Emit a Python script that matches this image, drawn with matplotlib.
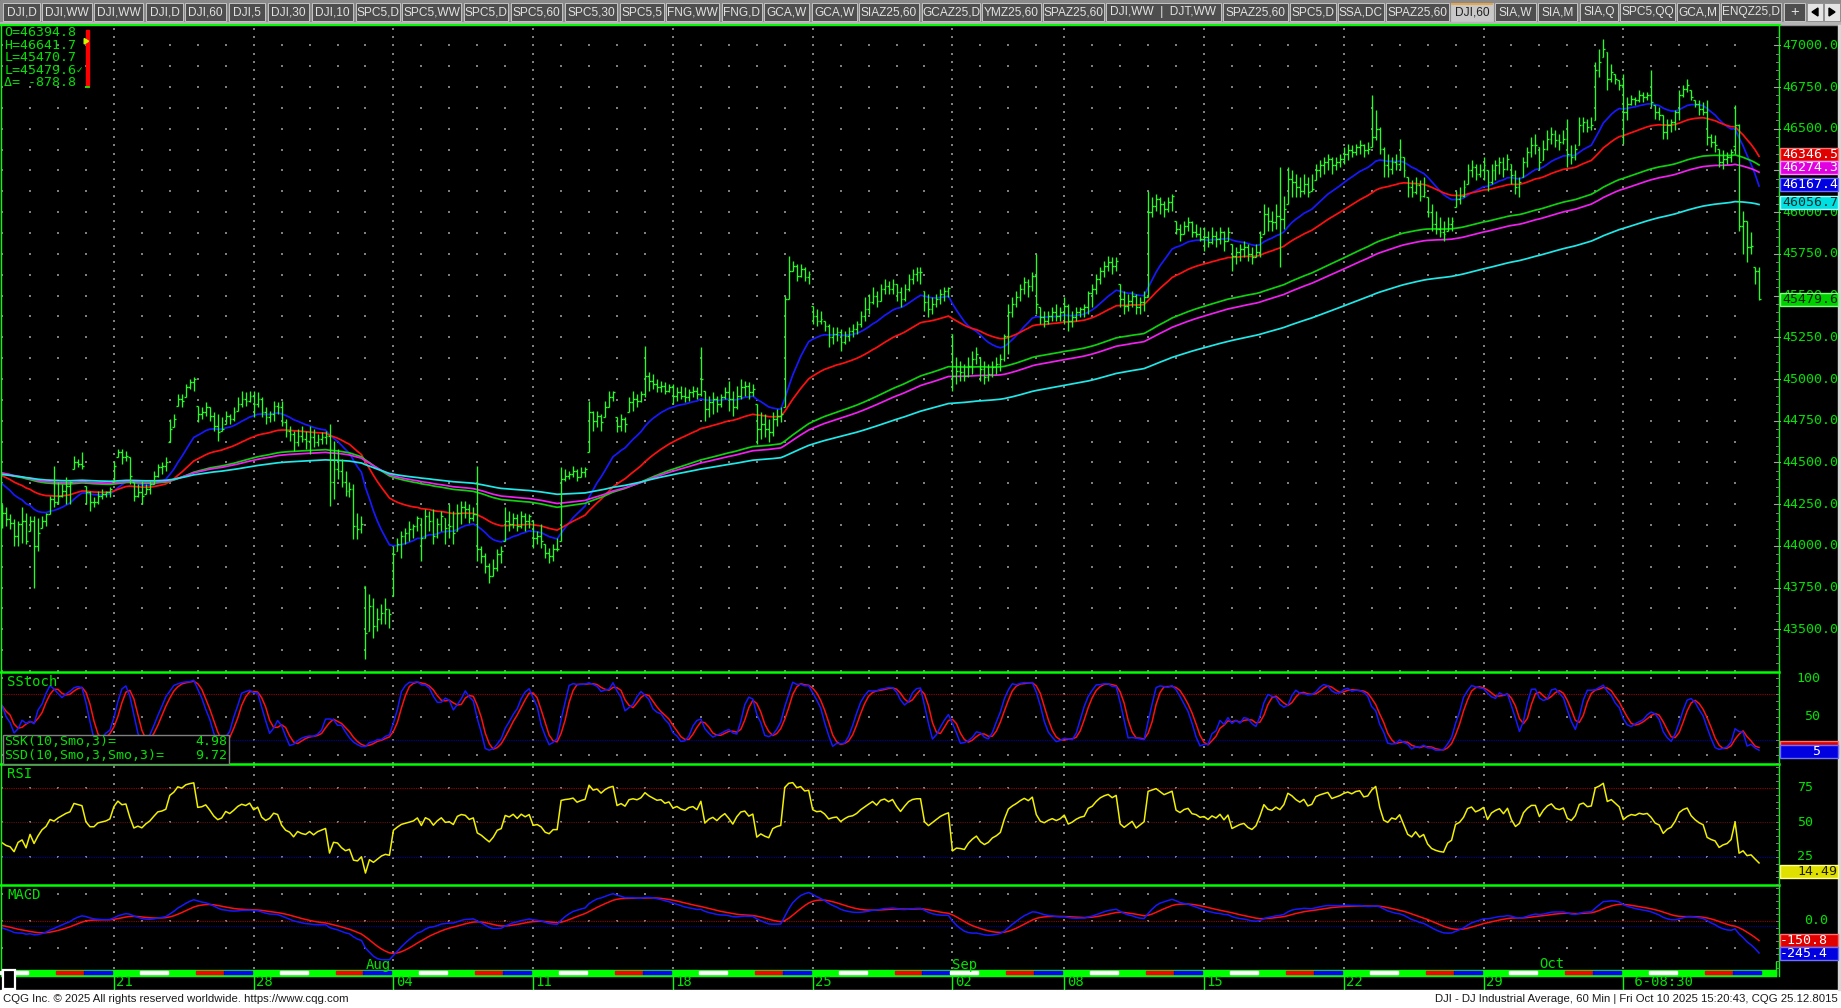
import numpy as np
import pandas as pd
import matplotlib
matplotlib.use("Agg")
import matplotlib.pyplot as plt
from matplotlib.collections import LineCollection
from matplotlib.patches import Rectangle, Polygon

W, H = 1841, 1008
MONO = "DejaVu Sans Mono"
TXT = "#00e400"
GREEN = "#00ff00"

# ---------------- data ----------------
# DJI 60-min bars, 7 per session, Jul 15 - Oct 10 2025 (Labor Day closed)
sessions = [d for d in pd.bdate_range("2025-07-15", "2025-10-10") if d != pd.Timestamp("2025-09-01")]

high = [
    44250, 44230, 44190, 44160, 44150, 44230, 44200,  # Jul 15
    44180, 44180, 44170, 44180, 44200, 44300, 44480,  # Jul 16
    44380, 44370, 44410, 44390, 44540, 44520, 44560,  # Jul 17
    44360, 44330, 44290, 44330, 44340, 44330, 44350,  # Jul 18
    44510, 44580, 44580, 44570, 44530, 44380, 44370,  # Jul 21
    44390, 44370, 44390, 44450, 44490, 44500, 44530,  # Jul 22
    44760, 44790, 44910, 44910, 44970, 45000, 45010,  # Jul 23
    44840, 44830, 44860, 44830, 44800, 44790, 44770,  # Jul 24
    44810, 44790, 44830, 44890, 44930, 44920, 44930,  # Jul 25
    44930, 44920, 44890, 44830, 44810, 44870, 44860,  # Jul 28
    44870, 44760, 44720, 44690, 44700, 44720, 44690,  # Jul 29
    44720, 44700, 44670, 44680, 44690, 44730, 44630,  # Jul 30
    44580, 44520, 44450, 44380, 44370, 44200, 44180,  # Jul 31
    43760, 43710, 43690, 43630, 43650, 43690, 43620,  # Aug 1
    44000, 44050, 44090, 44110, 44150, 44130, 44180,  # Aug 4
    44170, 44220, 44210, 44220, 44170, 44210, 44170,  # Aug 5
    44250, 44210, 44250, 44270, 44270, 44250, 44230,  # Aug 6
    44480, 44000, 43960, 43900, 43920, 43980, 44000,  # Aug 7
    44230, 44210, 44200, 44190, 44210, 44200, 44190,  # Aug 8
    44150, 44090, 44130, 44010, 43990, 44010, 44050,  # Aug 11
    44470, 44460, 44450, 44480, 44460, 44470, 44470,  # Aug 12
    44870, 44810, 44810, 44790, 44870, 44930, 44930,  # Aug 13
    44770, 44790, 44770, 44890, 44930, 44910, 44930,  # Aug 14
    45200, 45040, 45030, 45000, 44990, 44980, 44970,  # Aug 15
    44970, 44950, 44960, 44950, 44940, 44960, 44950,  # Aug 18
    45190, 44930, 44900, 44920, 44900, 44910, 44950,  # Aug 19
    44990, 44930, 44960, 45000, 44990, 44980, 44970,  # Aug 20
    44850, 44800, 44790, 44760, 44800, 44820, 44830,  # Aug 21
    45500, 45740, 45710, 45690, 45690, 45670, 45650,  # Aug 22
    45440, 45420, 45410, 45350, 45330, 45310, 45310,  # Aug 25
    45300, 45290, 45310, 45330, 45350, 45410, 45490,  # Aug 26
    45510, 45550, 45530, 45570, 45600, 45590, 45600,  # Aug 27
    45570, 45550, 45570, 45630, 45660, 45670, 45670,  # Aug 28
    45530, 45510, 45490, 45510, 45540, 45550, 45550,  # Aug 29
    45270, 45130, 45110, 45090, 45130, 45170, 45190,  # Sep 2
    45130, 45110, 45090, 45110, 45130, 45150, 45270,  # Sep 3
    45450, 45490, 45530, 45570, 45610, 45600, 45640,  # Sep 4
    45750, 45430, 45410, 45410, 45430, 45450, 45430,  # Sep 5
    45490, 45450, 45410, 45430, 45430, 45450, 45530,  # Sep 8
    45570, 45630, 45670, 45710, 45740, 45730, 45730,  # Sep 9
    45570, 45530, 45510, 45530, 45510, 45490, 45530,  # Sep 10
    46130, 46090, 46110, 46090, 46070, 46090, 46110,  # Sep 11
    45950, 45930, 45950, 45970, 45950, 45930, 45910,  # Sep 12
    45910, 45890, 45910, 45890, 45910, 45890, 45910,  # Sep 15
    45810, 45790, 45810, 45830, 45810, 45790, 45810,  # Sep 16
    45890, 46050, 46030, 46010, 46050, 46270, 46100,  # Sep 17
    46270, 46250, 46230, 46210, 46230, 46210, 46230,  # Sep 18
    46290, 46310, 46330, 46350, 46330, 46330, 46350,  # Sep 19
    46390, 46410, 46400, 46410, 46430, 46410, 46420,  # Sep 22
    46700, 46610, 46510, 46390, 46350, 46330, 46350,  # Sep 23
    46440, 46330, 46210, 46190, 46210, 46190, 46210,  # Sep 24
    46090, 46050, 46010, 45970, 45950, 45970, 45970,  # Sep 25
    46130, 46150, 46190, 46290, 46310, 46290, 46290,  # Sep 26
    46330, 46250, 46290, 46310, 46330, 46330, 46350,  # Sep 29
    46290, 46250, 46210, 46330, 46390, 46450, 46470,  # Sep 30
    46390, 46430, 46490, 46510, 46490, 46470, 46490,  # Oct 1
    46560, 46400, 46410, 46570, 46570, 46560, 46570,  # Oct 2
    46900, 46980, 47040, 46960, 46890, 46830, 46790,  # Oct 3
    46830, 46690, 46700, 46690, 46730, 46720, 46720,  # Oct 6
    46850, 46640, 46630, 46580, 46560, 46560, 46610,  # Oct 7
    46730, 46760, 46800, 46730, 46670, 46670, 46660,  # Oct 8
    46670, 46470, 46460, 46380, 46370, 46360, 46380,  # Oct 9
    46641.7, 46530, 46010, 45950, 45880, 45670, 45670,  # Oct 10
]
low = [
    44110, 44120, 44100, 44000, 44000, 44020, 44010,  # Jul 15
    44090, 43750, 43970, 44110, 44120, 44190, 44230,  # Jul 16
    44250, 44290, 44250, 44250, 44460, 44470, 44460,  # Jul 17
    44250, 44210, 44230, 44250, 44280, 44290, 44290,  # Jul 18
    44380, 44530, 44490, 44510, 44370, 44270, 44290,  # Jul 21
    44250, 44310, 44310, 44370, 44410, 44430, 44450,  # Jul 22
    44620, 44710, 44840, 44830, 44890, 44940, 44930,  # Jul 23
    44740, 44760, 44780, 44750, 44690, 44630, 44690,  # Jul 24
    44730, 44730, 44750, 44810, 44830, 44840, 44860,  # Jul 25
    44770, 44830, 44770, 44730, 44740, 44750, 44790,  # Jul 28
    44720, 44650, 44630, 44570, 44600, 44620, 44580,  # Jul 29
    44550, 44590, 44600, 44610, 44610, 44240, 44280,  # Jul 30
    44400, 44350, 44300, 44290, 44040, 44040, 44080,  # Jul 31
    43320, 43490, 43450, 43490, 43530, 43530, 43510,  # Aug 1
    43700, 43970, 43930, 44010, 44030, 44050, 44090,  # Aug 4
    43910, 44050, 44090, 44010, 44050, 44090, 44010,  # Aug 5
    44050, 44010, 44090, 44130, 44170, 44140, 44150,  # Aug 6
    43910, 43900, 43840, 43780, 43820, 43850, 43900,  # Aug 7
    44030, 44090, 44110, 44090, 44110, 44090, 44110,  # Aug 8
    43990, 44010, 43990, 43930, 43900, 43910, 43970,  # Aug 11
    44030, 44390, 44400, 44410, 44390, 44410, 44410,  # Aug 12
    44560, 44690, 44710, 44690, 44770, 44830, 44870,  # Aug 13
    44680, 44690, 44680, 44800, 44810, 44830, 44860,  # Aug 14
    44890, 44930, 44940, 44920, 44920, 44910, 44920,  # Aug 15
    44850, 44870, 44880, 44860, 44870, 44890, 44880,  # Aug 18
    44900, 44750, 44770, 44790, 44800, 44830, 44880,  # Aug 19
    44810, 44780, 44820, 44880, 44900, 44880, 44900,  # Aug 20
    44610, 44640, 44650, 44620, 44660, 44720, 44740,  # Aug 21
    44830, 45480, 45650, 45590, 45610, 45590, 45570,  # Aug 22
    45330, 45320, 45330, 45290, 45190, 45210, 45230,  # Aug 25
    45170, 45210, 45230, 45250, 45270, 45310, 45350,  # Aug 26
    45390, 45450, 45430, 45470, 45510, 45510, 45510,  # Aug 27
    45470, 45430, 45470, 45530, 45570, 45590, 45570,  # Aug 28
    45410, 45370, 45390, 45430, 45450, 45470, 45490,  # Aug 29
    44930, 44970, 44990, 44990, 45010, 45030, 45090,  # Sep 2
    44990, 44970, 44990, 45010, 45030, 45050, 45110,  # Sep 3
    45150, 45370, 45430, 45470, 45510, 45490, 45530,  # Sep 4
    45390, 45330, 45310, 45330, 45350, 45350, 45350,  # Sep 5
    45330, 45290, 45310, 45350, 45370, 45370, 45390,  # Sep 8
    45430, 45510, 45570, 45610, 45650, 45630, 45650,  # Sep 9
    45430, 45390, 45410, 45430, 45390, 45390, 45410,  # Sep 10
    45490, 45970, 46010, 45990, 45970, 46000, 46010,  # Sep 11
    45870, 45830, 45870, 45890, 45850, 45850, 45830,  # Sep 12
    45770, 45790, 45810, 45790, 45810, 45770, 45830,  # Sep 15
    45650, 45690, 45710, 45730, 45710, 45690, 45730,  # Sep 16
    45730, 45870, 45890, 45890, 45900, 45670, 45900,  # Sep 17
    46050, 46090, 46090, 46090, 46110, 46090, 46130,  # Sep 18
    46190, 46210, 46230, 46250, 46230, 46250, 46270,  # Sep 19
    46290, 46310, 46330, 46340, 46350, 46330, 46350,  # Sep 22
    46390, 46430, 46350, 46210, 46210, 46230, 46250,  # Sep 23
    46250, 46210, 46090, 46090, 46110, 46070, 46090,  # Sep 24
    45970, 45890, 45870, 45850, 45830, 45890, 45890,  # Sep 25
    46030, 46050, 46090, 46170, 46210, 46190, 46210,  # Sep 26
    46190, 46130, 46170, 46190, 46230, 46210, 46250,  # Sep 29
    46170, 46110, 46090, 46210, 46270, 46330, 46350,  # Sep 30
    46250, 46310, 46370, 46410, 46390, 46370, 46410,  # Oct 1
    46270, 46290, 46310, 46400, 46480, 46480, 46490,  # Oct 2
    46550, 46810, 46930, 46730, 46780, 46770, 46730,  # Oct 3
    46410, 46550, 46640, 46640, 46660, 46660, 46670,  # Oct 6
    46630, 46560, 46550, 46440, 46440, 46480, 46490,  # Oct 7
    46550, 46690, 46720, 46670, 46630, 46580, 46580,  # Oct 8
    46400, 46390, 46360, 46270, 46260, 46290, 46300,  # Oct 9
    46350, 45890, 45750, 45700, 45750, 45570, 45470.7,  # Oct 10
]
close = [
    44200, 44160, 44140, 44060, 44130, 44150, 44030,  # Jul 15
    44150, 44000, 44080, 44150, 44190, 44280, 44260,  # Jul 16
    44300, 44330, 44360, 44380, 44500, 44490, 44480,  # Jul 17
    44320, 44260, 44260, 44300, 44310, 44320, 44340,  # Jul 18
    44480, 44560, 44530, 44540, 44420, 44300, 44320,  # Jul 21
    44300, 44340, 44370, 44420, 44470, 44480, 44500,  # Jul 22
    44700, 44760, 44880, 44870, 44950, 44980, 45000,  # Jul 23
    44790, 44800, 44830, 44780, 44720, 44680, 44700,  # Jul 24
    44780, 44760, 44800, 44850, 44880, 44870, 44900,  # Jul 25
    44850, 44880, 44800, 44770, 44790, 44840, 44830,  # Jul 28
    44740, 44690, 44670, 44620, 44660, 44640, 44630,  # Jul 29
    44650, 44620, 44640, 44650, 44660, 44380, 44460,  # Jul 30
    44450, 44380, 44330, 44340, 44120, 44100, 44130,  # Jul 31
    43480, 43640, 43520, 43560, 43600, 43620, 43590,  # Aug 1
    43950, 44010, 44060, 44080, 44100, 44120, 44170,  # Aug 4
    44050, 44180, 44150, 44060, 44130, 44180, 44110,  # Aug 5
    44120, 44080, 44200, 44230, 44220, 44170, 44190,  # Aug 6
    43980, 43940, 43880, 43820, 43870, 43950, 43970,  # Aug 7
    44150, 44130, 44170, 44120, 44180, 44150, 44180,  # Aug 8
    44050, 44060, 44030, 43960, 43940, 43980, 43980,  # Aug 11
    44400, 44420, 44430, 44450, 44410, 44440, 44460,  # Aug 12
    44800, 44750, 44780, 44740, 44830, 44890, 44920,  # Aug 13
    44720, 44760, 44730, 44860, 44880, 44870, 44910,  # Aug 14
    45020, 44990, 44970, 44950, 44960, 44930, 44950,  # Aug 15
    44900, 44920, 44900, 44890, 44920, 44930, 44910,  # Aug 18
    45000, 44820, 44860, 44880, 44850, 44890, 44920,  # Aug 19
    44880, 44830, 44900, 44950, 44960, 44920, 44940,  # Aug 20
    44700, 44730, 44700, 44680, 44760, 44780, 44790,  # Aug 21
    45480, 45650, 45680, 45620, 45660, 45610, 45630,  # Aug 22
    45380, 45350, 45360, 45320, 45250, 45270, 45280,  # Aug 25
    45220, 45260, 45290, 45300, 45330, 45380, 45420,  # Aug 26
    45460, 45500, 45470, 45540, 45560, 45540, 45570,  # Aug 27
    45520, 45480, 45540, 45600, 45630, 45640, 45640,  # Aug 28
    45460, 45420, 45450, 45480, 45510, 45530, 45545,  # Aug 29
    45020, 45050, 45040, 45020, 45080, 45120, 45150,  # Sep 2
    45060, 45010, 45030, 45070, 45090, 45120, 45260,  # Sep 3
    45400, 45450, 45490, 45540, 45580, 45560, 45620,  # Sep 4
    45450, 45370, 45350, 45380, 45400, 45380, 45400,  # Sep 5
    45440, 45350, 45370, 45400, 45420, 45430, 45515,  # Sep 8
    45540, 45600, 45650, 45680, 45700, 45680, 45710,  # Sep 9
    45480, 45440, 45470, 45500, 45430, 45460, 45490,  # Sep 10
    46000, 46040, 46080, 46050, 46020, 46060, 46100,  # Sep 11
    45900, 45870, 45920, 45940, 45880, 45870, 45840,  # Sep 12
    45850, 45820, 45860, 45840, 45880, 45830, 45880,  # Sep 15
    45740, 45760, 45780, 45790, 45750, 45730, 45760,  # Sep 16
    45850, 45990, 45950, 45940, 45980, 45960, 46020,  # Sep 17
    46200, 46180, 46150, 46130, 46170, 46120, 46140,  # Sep 18
    46250, 46280, 46300, 46320, 46280, 46300, 46320,  # Sep 19
    46350, 46370, 46360, 46390, 46400, 46370, 46380,  # Sep 22
    46450, 46500, 46380, 46280, 46260, 46300, 46290,  # Sep 23
    46330, 46250, 46150, 46120, 46160, 46100, 46120,  # Sep 24
    46000, 45930, 45900, 45880, 45870, 45930, 45950,  # Sep 25
    46080, 46100, 46150, 46250, 46270, 46230, 46250,  # Sep 26
    46280, 46180, 46250, 46280, 46300, 46260, 46320,  # Sep 29
    46220, 46150, 46180, 46300, 46360, 46400, 46400,  # Sep 30
    46300, 46380, 46440, 46470, 46430, 46420, 46440,  # Oct 1
    46350, 46330, 46380, 46520, 46540, 46510, 46520,  # Oct 2
    46850, 46900, 46980, 46800, 46840, 46800, 46760,  # Oct 3
    46600, 46650, 46680, 46670, 46700, 46690, 46700,  # Oct 6
    46660, 46600, 46580, 46480, 46520, 46540, 46600,  # Oct 7
    46700, 46740, 46760, 46690, 46650, 46620, 46600,  # Oct 8
    46450, 46420, 46400, 46300, 46320, 46330, 46360,  # Oct 9
    46520, 45920, 45950, 45790, 45800, 45650, 45479.6,  # Oct 10
]
last_open = 46394.8

# moving averages (exponential), colour order blue, red, green, magenta, cyan
ma_len = [20, 45, 110, 128, 200]
ma_seed = [44390, 44430, 44440, 44440, 44430]      # levels at the left edge
ma_col = ["#1818ff", "#ff1010", "#10d010", "#f020f0", "#20e8e8"]

# right-scale value flags: (value, text, face, edge, text colour)
price_flags = [(46346.5, "46346.5", "#e00000", "#ff7070", "white"),
               (46274.3, "46274.3", "#e000e0", "#ff90ff", "white"),
               (46167.4, "46167.4", "#0000e0", "#7070ff", "white"),
               (46056.7, "46056.7", "#00e0e0", "#a0ffff", "#003030"),
               (45479.6, "45479.6", "#00d000", "#80ff80", "#002000")]
readout = ["O=46394.8", "H=46641.7", "L=45470.7", "L=45479.6", "\u0394= -878.8"]
ssk_last, ssd_last = 4.98, 9.72
rsi_last = 14.49
macd_last, signal_last = -245.4, -150.8
rsi_seed = (20.0, 37.0)            # avg gain / loss at left edge
macd_seed = (44380, 44420, -30.0)  # ema12, ema26, signal at left edge

tabs = ["DJI,D", "DJI,WW", "DJI,WW", "DJI,D", "DJI,60", "DJI,5", "DJI,30", "DJI,10",
        "SPC5,D", "SPC5,WW", "SPC5,D", "SPC5,60", "SPC5,30", "SPC5,5", "FNG,WW", "FNG,D",
        "GCA,W", "GCA,W", "SIAZ25,60", "GCAZ25,D", "YMZ25,60", "SPAZ25,60",
        "DJI,WW  |  DJT,WW", "SPAZ25,60", "SPC5,D", "SSA,DC", "SPAZ25,60", "DJI,60",
        "SIA,W", "SIA,M", "SIA,Q", "SPC5,QQ", "GCA,M", "ENQZ25,D", "+"]
selected_tab = 27
week_labels = ["21", "28", "04", "11", "18", "25", "02", "08", "15", "22", "29", " 6-08:30"]
month_labels = ["Aug", "Sep", "Oct"]
footer_left = "CQG Inc. \u00a9 2025 All rights reserved worldwide. https://www.cqg.com"
footer_right = "DJI - DJ Industrial Average, 60 Min | Fri Oct 10 2025 15:20:43, CQG 25.12.8015"

# ---------------- derived series ----------------
high = np.array(high, float); low = np.array(low, float); close = np.array(close, float)
n = len(close)
opn = np.clip(np.r_[close[0], close[:-1]], low, high)
opn[n - 7] = last_open


def ema(x, length, seed):
    a = 2.0 / (length + 1)
    out = np.empty(len(x)); v = seed
    for k, p in enumerate(x):
        v += a * (p - v); out[k] = v
    return out


mas = [ema(close, L, s) for L, s in zip(ma_len, ma_seed)]

c, h, l = pd.Series(close), pd.Series(high), pd.Series(low)
ll = l.rolling(10, min_periods=1).min(); hh = h.rolling(10, min_periods=1).max()
fastk = 100 * (c - ll) / (hh - ll)
ssk = fastk.rolling(3, min_periods=1).mean().values
ssd = pd.Series(ssk).rolling(3, min_periods=1).mean().values

ag, al = rsi_seed
rsi = np.empty(n); prev = close[0]
for k, p in enumerate(close):
    d = p - prev; prev = p
    ag = (ag * 13 + max(d, 0)) / 14
    al = (al * 13 + max(-d, 0)) / 14
    rsi[k] = 100 * ag / (ag + al)

macd = ema(close, 12, macd_seed[0]) - ema(close, 26, macd_seed[1])
signal = ema(macd, 9, macd_seed[2])

# session / week / month starts (bar index)
day_start = np.arange(0, n, 7)
week_start = [7 * k for k in range(1, len(sessions)) if sessions[k].weekday() < sessions[k - 1].weekday()]
month_start = [7 * k for k in range(1, len(sessions)) if sessions[k].month != sessions[k - 1].month]

# ---------------- figure ----------------
fig = plt.figure(figsize=(W / 100, H / 100), dpi=100, facecolor="black")


def frame(x0, y0, x1, y1):
    return [x0 / W, 1 - y1 / H, (x1 - x0) / W, (y1 - y0) / H]


ax_p = fig.add_axes(frame(2, 26, 1779, 672))
ax_s = fig.add_axes(frame(2, 672, 1779, 764))
ax_r = fig.add_axes(frame(2, 764, 1779, 885))
ax_m = fig.add_axes(frame(2, 885, 1779, 969))
for ax in (ax_p, ax_s, ax_r, ax_m):
    ax.set_facecolor("black")
    ax.set_xlim(-0.025, 445.0)
    for s in ax.spines.values():
        s.set_visible(False)
    ax.set_xticks([]); ax.set_yticks([])
ax_p.set_ylim(43244, 47116)
ax_s.set_ylim(-11.7, 108.2)
ax_r.set_ylim(4.5, 92.2)
ax_m.set_ylim(-360, 270)

DOT = "#7e7e7e"


def dots(ax, xs, ys):
    X, Y = np.meshgrid(xs, ys)
    ax.scatter(X.ravel(), Y.ravel(), s=0.8, marker="s", c=DOT, linewidths=0, zorder=1)


plain_days = [d for d in day_start if d not in week_start]
dots(ax_p, plain_days, np.arange(43250, 47116, 125))
dots(ax_p, week_start, np.arange(43250, 47116, 50))
dots(ax_s, plain_days, [0, 50, 100])
dots(ax_s, week_start, np.arange(-10, 108, 10))
dots(ax_r, plain_days, [25, 50, 75])
dots(ax_r, week_start, np.arange(6, 92, 6))
dots(ax_m, plain_days, [-200, 0, 200])
dots(ax_m, week_start, np.arange(-350, 270, 60))

# price bars
segs = []
for i in range(n):
    segs.append([(i, low[i]), (i, high[i])])
    segs.append([(i - 0.45, opn[i]), (i, opn[i])])
    segs.append([(i, close[i]), (i + 0.45, close[i])])
ax_p.add_collection(LineCollection(segs, colors="#22ff22", linewidths=0.95, zorder=5))
x = np.arange(n)
for m, col in zip(mas, ma_col):
    ax_p.plot(x, m, color=col, lw=1.25, zorder=4)

# SStoch
ax_s.axhline(80, color="#9a0000", lw=0.8, ls=(0, (1, 1)), zorder=2)
ax_s.axhline(20, color="#0000a0", lw=0.8, ls=(0, (1, 1)), zorder=2)
ax_s.plot(x, ssd, color="#ff1010", lw=1.1, zorder=4)
ax_s.plot(x, ssk, color="#1818ff", lw=1.1, zorder=5)

# RSI
ax_r.axhline(75, color="#9a0000", lw=0.8, ls=(0, (1, 1)), zorder=2)
ax_r.axhline(50, color="#5a1010", lw=0.8, ls=(0, (1, 1)), zorder=2)
ax_r.axhline(25, color="#0000a0", lw=0.8, ls=(0, (1, 1)), zorder=2)
ax_r.plot(x, rsi, color="#f0f000", lw=1.1, zorder=4)

# MACD
ax_m.axhline(0, color="#9a0000", lw=0.8, ls=(0, (1, 1)), zorder=2)
ax_m.axhline(-35, color="#0000a0", lw=0.8, ls=(0, (1, 1)), zorder=2)
ax_m.plot(x, signal, color="#ff1010", lw=1.1, zorder=4)
ax_m.plot(x, macd, color="#1818ff", lw=1.1, zorder=5)

# ---------------- overlay in pixel coordinates ----------------
ov = fig.add_axes([0, 0, 1, 1], zorder=10)
ov.set_xlim(0, W); ov.set_ylim(H, 0); ov.axis("off"); ov.patch.set_alpha(0)


def ypx(ax, v):
    return H - ax.transData.transform((0, v))[1]


def xpx(i):
    return ax_p.transData.transform((i, 0))[0]


def label(xp, yp, s, ha="left", color=TXT, size=9.5, **kw):
    ov.text(xp, yp, s, color=color, family=MONO, fontsize=size, ha=ha, va="center", **kw)


# frame lines
ov.plot([0, 1780], [25.2, 25.2], color=GREEN, lw=1.4)
for yy in (671.8, 764, 885):
    ov.plot([0, 1779.5], [yy, yy], color=GREEN, lw=1.8)
ov.plot([1779.3, 1779.3], [25, 976], color=GREEN, lw=1.0)
ov.plot([1.2, 1.2], [25, 976], color=GREEN, lw=1.0)

# right scale: main
for p in range(43500, 47001, 250):
    yy = ypx(ax_p, p)
    ov.plot([1774, 1780], [yy, yy], color="#a0a0a0", lw=0.8)
    label(1782, yy, f"{p:.1f}")
for p in range(43300, 47100, 50):
    if p % 250:
        yy = ypx(ax_p, p)
        ov.plot([1776, 1779], [yy, yy], color="#808080", lw=0.7)
prev_y = -99
for v, s, fc, ec, tc in price_flags:
    yy = max(ypx(ax_p, v), prev_y + 13.4)
    prev_y = yy
    ov.add_patch(Rectangle((1780.5, yy - 6.5), 57.5, 13, facecolor=fc, edgecolor=ec, lw=1.0, zorder=3))
    label(1782, yy, s, color=tc, zorder=4)

# right scale: indicators
for ax, vals in ((ax_s, np.arange(-10, 108, 10)), (ax_r, np.arange(5, 92, 5)),
                 (ax_m, np.arange(-350, 270, 50))):
    for v in vals:
        yy = ypx(ax, v)
        ov.plot([1776, 1779], [yy, yy], color="#808080", lw=0.7)
for v in (100, 50):
    label(1820, ypx(ax_s, v), str(v), ha="right")
for v in (75, 50, 25):
    label(1813, ypx(ax_r, v), str(v), ha="right")
label(1828, ypx(ax_m, 0), "0.0", ha="right")


def flag(yy, s, fc, ec, tc, xr):
    ov.add_patch(Rectangle((1780.5, yy - 6.5), 57.5, 13, facecolor=fc, edgecolor=ec, lw=1.0, zorder=3))
    if s:
        label(xr, yy, s, ha="right", color=tc, zorder=4)


# SSD flag sits under the SSK flag, its text hidden as on the reference
flag(ypx(ax_s, ssd_last), "", "#e00000", "#ff7070", "white", 1836)
flag(ypx(ax_s, ssk_last), f"{ssk_last:.0f}", "#0000e0", "#7070ff", "white", 1820)
flag(ypx(ax_r, rsi_last), f"{rsi_last:.2f}", "#e0e000", "#ffff90", "#202000", 1837)
y_macd = ypx(ax_m, macd_last)
flag(min(ypx(ax_m, signal_last), y_macd - 13.4), f"{signal_last:.1f}", "#e00000", "#ff7070", "white", 1828)
flag(y_macd, f"{macd_last:.1f}", "#0000e0", "#7070ff", "white", 1828)

# panel titles and readouts
label(7, 682, "SStoch", size=10)
label(7, 774, "RSI", size=10)
label(7, 895, "MACD", size=10)
ov.add_patch(Rectangle((2.7, 735), 226.5, 29, facecolor="black", edgecolor="#808080", lw=1.0, zorder=3))
label(4.5, 741.5, "SSK(10,Smo,3)=", zorder=4)
label(227, 741.5, f"{ssk_last:.2f}", ha="right", zorder=4)
label(4.5, 755.5, "SSD(10,Smo,3,Smo,3)=", zorder=4)
label(227, 755.5, f"{ssd_last:.2f}", ha="right", zorder=4)

for k, s in enumerate(readout):
    label(4.5, 32.5 + 12.6 * k, s)
ov.text(76, 70, "\u2713", color=TXT, fontsize=6.5, family="DejaVu Sans", ha="left", va="center")
ov.add_patch(Rectangle((86, 29.5), 2.6, 57.5, color="#ff0000", zorder=3))
ov.add_patch(Polygon([(84.2, 38.5), (84.2, 44), (88.6, 41.2)], closed=True, color="#c8ff00", zorder=4))
ov.plot([86, 88.6], [86.5, 86.5], color=GREEN, lw=1.2, zorder=4)

# date strip
ov.add_patch(Rectangle((2, 969.5), 1774.5, 6, color=GREEN, zorder=2))
strip_col = {1: "white", 3: "#ff0000", 4: "#0000ff"}
for k, d in enumerate(sessions):
    if d.weekday() in strip_col:
        x0 = xpx(7 * k) - 2
        x1 = min(xpx(7 * k + 7) - 2, 1776)
        ov.add_patch(Rectangle((x0, 971.2), x1 - x0, 2.8, color=strip_col[d.weekday()], zorder=3))
ov.plot([1776.3, 1776.3], [962, 976], color=GREEN, lw=1.0, zorder=3)
ov.add_patch(Rectangle((3, 970), 12, 19, facecolor="black", edgecolor="white", lw=1.6, zorder=4))
for i0, s in zip(week_start, week_labels):
    xx = xpx(i0)
    ov.plot([xx, xx], [975, 988.5], color=GREEN, lw=1.0)
    label(xx + 2.5, 982, s, size=10)
for i0, s in zip(month_start, month_labels):
    label(xpx(i0), 964.5, s, zorder=5, size=10)

# footer
ov.add_patch(Rectangle((0, 990), W, 18, color="white", zorder=2))
ov.text(3, 999.5, footer_left, color="#1a1a1a", family="Liberation Sans", fontsize=8.2,
        ha="left", va="center", zorder=3)
ov.text(1838, 999.5, footer_right, color="#1a1a1a", family="Liberation Sans", fontsize=8.2,
        ha="right", va="center", zorder=3)
ov.add_patch(Rectangle((1838.3, 25), 2.7, 965, color="#d8d8d8", zorder=2))

# tab bar
tab_edges = [(3, 40), (42, 92), (94, 143), (146, 183), (185, 226), (229, 265), (268, 309), (312, 353),
             (356, 400), (402, 461), (464, 508), (511, 562), (565, 617), (620, 664), (666, 719),
             (722, 762), (764, 809), (812, 857), (859, 919), (922, 980), (982, 1041), (1043, 1104),
             (1106, 1221), (1223, 1288), (1290, 1336), (1338, 1384), (1386, 1449), (1451, 1493),
             (1495, 1536), (1538, 1577), (1580, 1618), (1620, 1675), (1677, 1719), (1721, 1781),
             (1784, 1805)]
ov.add_patch(Rectangle((0, 0), W, 24.5, color="#8a8a8a", zorder=1))
ov.add_patch(Rectangle((0, 21.5), W, 2.5, color="#b4b4b4", zorder=1))
for k, ((x0, x1), s) in enumerate(zip(tab_edges, tabs)):
    sel = k == selected_tab
    ov.add_patch(Rectangle((x0, 3), x1 - x0, 18, facecolor="#c8c8c8" if sel else "#4e4e4e",
                           edgecolor="#c4c4c4", lw=0.7, zorder=2))
    if sel:
        ov.plot([x0 + 1, x1 - 1], [3.8, 3.8], color="#f0a030", lw=1.2, zorder=3)
    ov.text((x0 + x1) / 2, 12.3, s, color="#202020" if sel else "#e2e2e2", family="Liberation Sans",
            fontsize=8.6 if s != "+" else 10.5, ha="center", va="center", zorder=3)
for x0 in (1807, 1824):
    ov.add_patch(Rectangle((x0, 3), 16, 18, facecolor="#e4e4e4", edgecolor="#909090", lw=0.7, zorder=2))
ov.add_patch(Polygon([(1812, 12), (1818, 8), (1818, 16)], closed=True, color="black", zorder=3))
ov.add_patch(Polygon([(1835, 12), (1829, 8), (1829, 16)], closed=True, color="black", zorder=3))

fig.savefig("out.png", dpi=100, facecolor="black")
